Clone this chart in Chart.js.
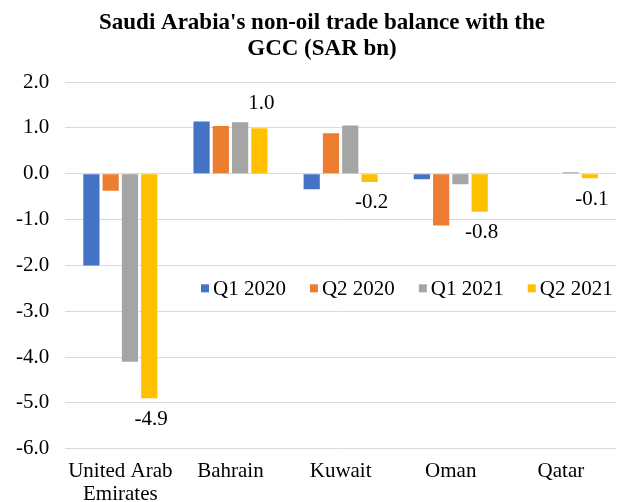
<!DOCTYPE html>
<html>
<head>
  <meta charset="utf-8">
  <title>Saudi Arabia non-oil trade balance with the GCC</title>
  <script src="https://cdn.jsdelivr.net/npm/chart.js"></script>
  <style>
    body { margin: 0; background: #fff; }
    #wrap { width: 622px; height: 502px; }
  </style>
</head>
<body>
  <div id="wrap"><canvas id="chart"></canvas></div>
  <script>
    const countries = [['United Arab', 'Emirates'], 'Bahrain', 'Kuwait', 'Oman', 'Qatar'];
    const q1_2020 = [-2.0, 1.14, -0.34, -0.12, 0.0];
    const q2_2020 = [-0.37, 1.04, 0.88, -1.13, 0.0];
    const q1_2021 = [-4.1, 1.12, 1.05, -0.23, 0.03];
    const q2_2021 = [-4.9, 0.99, -0.18, -0.83, -0.1];
    const seriesNames = ['Q1 2020', 'Q2 2020', 'Q1 2021', 'Q2 2021'];
    const colors = ['#4472C4', '#ED7D31', '#A5A5A5', '#FFC000'];
    const titleLines = ["Saudi Arabia's non-oil trade balance with the", 'GCC (SAR bn)'];

    const serif = '"Liberation Serif", "Times New Roman", serif';

    // title, drawn slightly right of canvas centre as in the original
    const titlePlugin = {
      id: 'sideTitle',
      afterDraw(chart) {
        const ctx = chart.ctx;
        ctx.save();
        ctx.font = 'bold 23px ' + serif;
        ctx.fillStyle = '#000';
        ctx.textAlign = 'center';
        ctx.textBaseline = 'middle';
        titleLines.forEach((t, i) => ctx.fillText(t, 322, 23 + i * 26));
        ctx.restore();
      }
    };

    // value labels only for the last series
    const labelPlugin = {
      id: 'valueLabels',
      afterDatasetsDraw(chart) {
        const ctx = chart.ctx;
        const meta = chart.getDatasetMeta(3);
        ctx.save();
        ctx.font = '21px ' + serif;
        ctx.fillStyle = '#000';
        ctx.textAlign = 'center';
        ctx.textBaseline = 'middle';
        meta.data.forEach((bar, i) => {
          const v = q2_2021[i];
          const y = v >= 0 ? bar.y - 25 : bar.y + 21;
          ctx.fillText(v.toFixed(1), bar.x + 2, y);
        });
        ctx.restore();
      }
    };

    // legend drawn inside the plot area
    const innerLegend = {
      id: 'innerLegend',
      afterDraw(chart) {
        const ctx = chart.ctx;
        const y = chart.scales.y.getPixelForValue(-2.5);
        ctx.save();
        ctx.font = '21px ' + serif;
        ctx.textBaseline = 'middle';
        let x = 201;
        seriesNames.forEach((name, i) => {
          ctx.fillStyle = colors[i];
          ctx.fillRect(x, y - 4, 8, 8);
          ctx.fillStyle = '#000';
          ctx.fillText(name, x + 12, y + 1);
          x += 12 + ctx.measureText(name).width + 24;
        });
        ctx.restore();
      }
    };

    new Chart(document.getElementById('chart'), {
      type: 'bar',
      data: {
        labels: countries,
        datasets: [q1_2020, q2_2020, q1_2021, q2_2021].map((d, i) => ({
          label: seriesNames[i],
          data: d,
          backgroundColor: colors[i],
          categoryPercentage: 0.7,
          barPercentage: 0.84
        }))
      },
      options: {
        responsive: true,
        maintainAspectRatio: false,
        animation: false,
        layout: { padding: { left: 0, right: 6, top: 82, bottom: -15 } },
        plugins: {
          legend: { display: false },
          tooltip: { enabled: false },
          title: { display: false }
        },
        scales: {
          x: {
            grid: { display: false, drawTicks: false },
            border: { display: false },
            ticks: {
              color: '#000',
              font: { family: serif, size: 21, lineHeight: 1.1 },
              padding: 11,
              maxRotation: 0
            }
          },
          y: {
            min: -6,
            max: 2,
            border: { display: false },
            grid: { color: '#d9d9d9', drawTicks: false },
            ticks: {
              stepSize: 1,
              color: '#000',
              font: { family: serif, size: 21 },
              padding: 16,
              callback: v => v.toFixed(1)
            }
          }
        }
      },
      plugins: [titlePlugin, labelPlugin, innerLegend]
    });
  </script>
</body>
</html>
